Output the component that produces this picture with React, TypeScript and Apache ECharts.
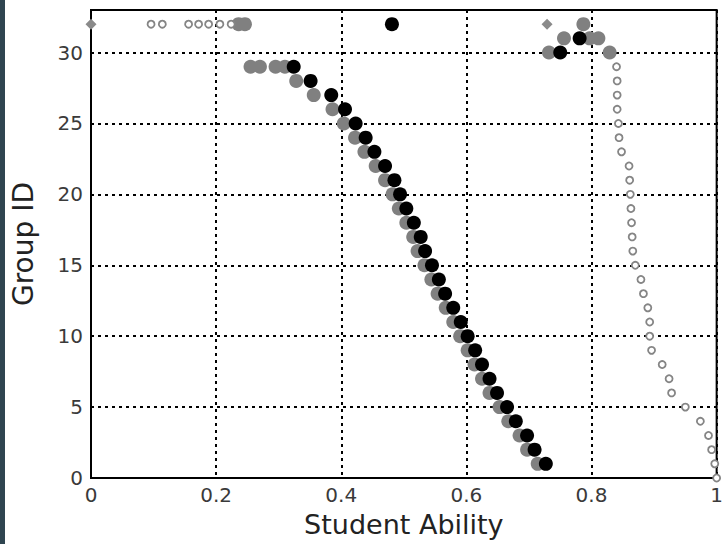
import React, { useEffect, useRef } from "react";
import * as echarts from "echarts";

// Black filled circles: one per group
const blackGroups = [1, 2, 3, 4, 5, 6, 7, 8, 9, 10, 11, 12, 13, 14, 15, 16, 17, 18, 19, 20, 21, 22, 23, 24, 25, 26, 27, 28, 29, 30, 31, 32];
const blackAbility = [0.727, 0.709, 0.697, 0.679, 0.665, 0.649, 0.637, 0.625, 0.614, 0.602, 0.591, 0.579, 0.566, 0.556, 0.545, 0.534, 0.527, 0.516, 0.504, 0.494, 0.485, 0.47, 0.453, 0.439, 0.423, 0.406, 0.384, 0.351, 0.324, 0.75, 0.781, 0.481];

// Gray filled circles
const grayGroups = [1, 2, 3, 4, 5, 6, 7, 8, 9, 10, 11, 12, 13, 14, 15, 16, 17, 18, 19, 20, 21, 22, 23, 24, 25, 26, 27, 28, 29, 29, 29, 29, 30, 30, 31, 31, 31, 32, 32, 32];
const grayAbility = [0.714, 0.697, 0.685, 0.667, 0.653, 0.637, 0.625, 0.613, 0.602, 0.59, 0.579, 0.567, 0.554, 0.544, 0.533, 0.522, 0.515, 0.504, 0.492, 0.482, 0.47, 0.455, 0.437, 0.422, 0.404, 0.386, 0.356, 0.328, 0.255, 0.27, 0.295, 0.31, 0.732, 0.829, 0.756, 0.797, 0.811, 0.787, 0.236, 0.246];

// Small hollow gray markers
const hollowGroups = [32, 32, 32, 32, 32, 32, 32, 29, 28, 27, 26, 25, 24, 23, 22, 21, 20, 19, 18, 17, 16, 15, 14, 13, 12, 11, 10, 9, 8, 7, 6, 5, 4, 3, 2, 1, 0];
const hollowAbility = [0.096, 0.114, 0.156, 0.172, 0.188, 0.206, 0.224, 0.84, 0.841, 0.841, 0.841, 0.843, 0.844, 0.848, 0.86, 0.861, 0.862, 0.863, 0.864, 0.865, 0.866, 0.87, 0.879, 0.883, 0.89, 0.893, 0.893, 0.896, 0.913, 0.924, 0.928, 0.95, 0.974, 0.987, 0.992, 0.997, 1.0];

// Small filled gray diamonds
const diamondGroups = [32, 32];
const diamondAbility = [0.0, 0.729];

const xTicks = [0, 0.2, 0.4, 0.6, 0.8, 1];

const pairs = (xs: number[], ys: number[]) => xs.map((x, i) => [x, ys[i]]);

export default function App() {
  const ref = useRef<HTMLDivElement>(null);
  useEffect(() => {
    if (!ref.current) return;
    const chart = echarts.init(ref.current, undefined, { renderer: "svg" });
    const font = "DejaVu Sans";
    const dash = { color: "#000", width: 2, type: [3, 4] as number[] };
    chart.setOption({
      animation: false,
      backgroundColor: "#fff",
      graphic: [
        { type: "rect", left: 0, top: 0, shape: { width: 5, height: 544 }, style: { fill: "#2f4550" }, silent: true },
      ],
      grid: {
        left: 91,
        top: 10,
        width: 633,
        height: 468,
        show: true,
        borderColor: "#000",
        borderWidth: 2,
        backgroundColor: "#fff",
      },
      xAxis: {
        type: "value",
        min: 0,
        max: 1,
        interval: 0.2,
        name: "Student Ability",
        nameLocation: "middle",
        nameGap: 33,
        nameTextStyle: { fontFamily: font, fontSize: 27, color: "#222" },
        axisLine: { show: true, onZero: false, lineStyle: { color: "#000", width: 2 } },
        axisTick: { show: false },
        axisLabel: {
          fontFamily: font,
          fontSize: 20,
          color: "#3a3a3a",
          margin: 7,
          formatter: (v: number) => (xTicks.includes(Math.round(v * 10) / 10) ? String(Math.round(v * 10) / 10) : ""),
        },
        splitLine: { show: true, lineStyle: dash },
      },
      yAxis: {
        type: "value",
        min: 0,
        max: 33,
        interval: 5,
        name: "Group ID",
        nameLocation: "middle",
        nameGap: 54,
        nameTextStyle: { fontFamily: font, fontSize: 28, color: "#222" },
        axisLine: { show: true, onZero: false, lineStyle: { color: "#000", width: 2 } },
        axisTick: { show: false },
        axisLabel: { fontFamily: font, fontSize: 20, color: "#3a3a3a", margin: 8, showMaxLabel: false },
        splitLine: { show: true, lineStyle: dash },
      },
      series: [
        {
          type: "scatter",
          data: pairs(grayAbility, grayGroups),
          symbol: "circle",
          symbolSize: 14,
          itemStyle: { color: "#808080", opacity: 1 },
          z: 2,
        },
        {
          type: "scatter",
          data: pairs(hollowAbility, hollowGroups),
          symbol: "circle",
          symbolSize: 7,
          itemStyle: { color: "#fff", borderColor: "#858585", borderWidth: 1.8, opacity: 1 },
          z: 3,
        },
        {
          type: "scatter",
          data: pairs(diamondAbility, diamondGroups),
          symbol: "diamond",
          symbolSize: 11,
          itemStyle: { color: "#8a8a8a", opacity: 1 },
          z: 3,
        },
        {
          type: "scatter",
          data: pairs(blackAbility, blackGroups),
          symbol: "circle",
          symbolSize: 14,
          itemStyle: { color: "#000", opacity: 1 },
          z: 4,
        },
      ],
    });
    return () => chart.dispose();
  }, []);
  return <div ref={ref} style={{ position: "fixed", left: 0, top: 0, width: 726, height: 544 }} />;
}
